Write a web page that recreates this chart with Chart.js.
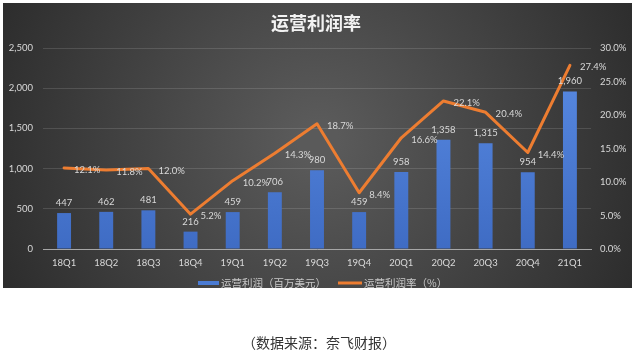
<!DOCTYPE html>
<html><head><meta charset="utf-8">
<script src="https://cdn.jsdelivr.net/npm/chart.js@4/dist/chart.umd.min.js"></script>
<style>html,body{margin:0;padding:0;background:#fff;}canvas{display:block}</style>
</head><body>
<canvas id="c" width="634" height="356" style="width:634px;height:356px"></canvas>
<script>
const categories = ['18Q1','18Q2','18Q3','18Q4','19Q1','19Q2','19Q3','19Q4','20Q1','20Q2','20Q3','20Q4','21Q1'];
const operatingProfit = [447, 462, 481, 216, 459, 706, 980, 459, 958, 1358, 1315, 954, 1960];
const operatingMargin = [12.1, 11.8, 12.0, 5.2, 10.2, 14.3, 18.7, 8.4, 16.6, 22.1, 20.4, 14.4, 27.4];
const seriesNames = ['运营利润（百万美元）', '运营利润率（%）'];
const titleText = '运营利润率';
const sourceText = '（数据来源：奈飞财报）';

const tickFont = {family: 'Lato', size: 9.5};
const labelColor = '#d9d9d9';

const bgPlugin = {
  id: 'bg',
  beforeDraw(chart) {
    const ctx = chart.ctx;
    ctx.save();
    ctx.fillStyle = '#ffffff';
    ctx.fillRect(0, 0, chart.width, chart.height);
    const g = ctx.createRadialGradient(318, 140, 20, 318, 140, 380);
    g.addColorStop(0, '#5a5a5a');
    g.addColorStop(1, '#282828');
    ctx.fillStyle = g;
    ctx.fillRect(3, 3, 629, 285);
    ctx.restore();
  }
};

const decoPlugin = {
  id: 'deco',
  afterDraw(chart) {
    const ctx = chart.ctx;
    ctx.save();
    ctx.fillStyle = '#f2f2f2';
    ctx.font = 'bold 18px "Noto Sans CJK SC"';
    ctx.textAlign = 'center';
    ctx.textBaseline = 'middle';
    ctx.fillText(titleText, 316, 23);
    ctx.font = '10.5px "Noto Sans CJK SC"';
    ctx.textAlign = 'left';
    ctx.fillStyle = '#4a7bd3';
    ctx.fillRect(198, 281, 21, 4);
    ctx.fillStyle = '#c8c8c8';
    ctx.fillText(seriesNames[0], 221, 283);
    ctx.strokeStyle = '#ED7D31';
    ctx.lineWidth = 3;
    ctx.beginPath(); ctx.moveTo(338, 283); ctx.lineTo(362, 283); ctx.stroke();
    ctx.fillText(seriesNames[1], 364, 283);
    ctx.fillStyle = '#333333';
    ctx.font = '14px "Noto Sans CJK SC"';
    ctx.textAlign = 'center';
    ctx.fillText(sourceText, 319, 343);
    ctx.restore();
  },
  afterDatasetsDraw(chart) {
    const ctx = chart.ctx;
    ctx.save();
    ctx.font = '9.5px Lato';
    ctx.fillStyle = labelColor;
    ctx.textBaseline = 'middle';
    const barMeta = chart.getDatasetMeta(1);
    ctx.textAlign = 'center';
    barMeta.data.forEach((el, i) => {
      ctx.fillText(operatingProfit[i].toLocaleString('en-US'), el.x, el.y - 10);
    });
    const lineMeta = chart.getDatasetMeta(0);
    ctx.textAlign = 'left';
    lineMeta.data.forEach((el, i) => {
      ctx.fillText(operatingMargin[i].toFixed(1) + '%', el.x + 10, el.y + 2);
    });
    ctx.restore();
  }
};

new Chart(document.getElementById('c'), {
  data: {
    labels: categories,
    datasets: [
      {
        type: 'line', label: seriesNames[1], data: operatingMargin, yAxisID: 'y1',
        borderColor: '#ED7D31', borderWidth: 3, pointRadius: 0, tension: 0, order: 0,
        borderJoinStyle: 'round', borderCapStyle: 'round'
      },
      {
        type: 'bar', label: seriesNames[0], data: operatingProfit, yAxisID: 'y',
        backgroundColor(ctx) {
          const a = ctx.chart.chartArea;
          if (!a) return '#4a7bd3';
          const g = ctx.chart.ctx.createLinearGradient(0, a.bottom, 0, a.top);
          g.addColorStop(0, '#3f6cc4');
          g.addColorStop(1, '#5a8ce4');
          return g;
        },
        barPercentage: 0.33, categoryPercentage: 1, order: 1
      }
    ]
  },
  options: {
    responsive: false, animation: false, devicePixelRatio: 1,
    layout: {padding: {left: 3, right: 4, top: 48, bottom: 82}},
    plugins: {legend: {display: false}, tooltip: {enabled: false}, title: {display: false}},
    scales: {
      x: {
        type: 'category',
        grid: {display: false, drawTicks: false},
        border: {display: true, color: '#a6a6a6', width: 1},
        ticks: {color: labelColor, font: tickFont, padding: 8, maxRotation: 0},
        afterFit(s) { s.height = 25; }
      },
      y: {
        position: 'left', min: 0, max: 2500,
        grid: {color: 'rgba(255,255,255,0.13)', drawTicks: false},
        border: {display: false},
        ticks: {stepSize: 500, color: labelColor, font: tickFont, padding: 10,
          callback: v => v.toLocaleString('en-US')},
        afterFit(s) { s.width = 40; }
      },
      y1: {
        position: 'right', min: 0, max: 30,
        grid: {display: false, drawTicks: false},
        border: {display: false},
        ticks: {stepSize: 5, color: labelColor, font: tickFont, padding: 9,
          callback: v => v.toFixed(1) + '%'},
        afterFit(s) { s.width = 39; }
      }
    }
  },
  plugins: [bgPlugin, decoPlugin]
});
</script>
</body></html>
